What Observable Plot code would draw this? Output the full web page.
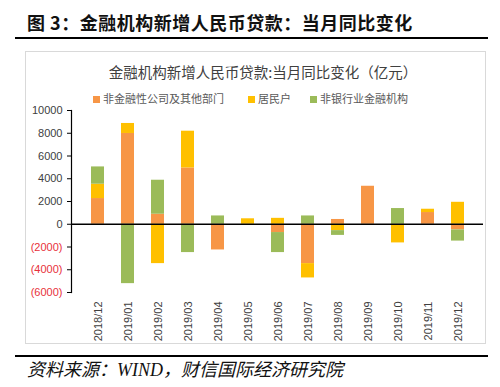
<!DOCTYPE html>
<html>
<head>
<meta charset="utf-8">
<script src="https://cdn.jsdelivr.net/npm/d3@7"></script>
<script src="https://cdn.jsdelivr.net/npm/@observablehq/plot@0.6"></script>
<style>
  html, body { margin: 0; padding: 0; background: #fff; }
  #wrap { position: relative; width: 500px; height: 387px; overflow: hidden; background: #fff; }
  .abs { position: absolute; white-space: nowrap; }
  #title { left: 27px; top: 10px; font-family: "Noto Sans CJK SC", sans-serif; font-weight: bold; font-size: 18px; line-height: 24px; color: #111; letter-spacing: 0.5px; }
  .hr { position: absolute; left: 15px; width: 473px; height: 2px; background: #000; }
  #box { left: 25px; top: 51px; width: 459px; height: 291px; border: 1px solid #d9d9d9; }
  #subtitle { left: 0; width: 526px; text-align: center; top: 62px; font-family: "Noto Sans CJK SC", sans-serif; font-size: 14.5px; line-height: 20px; color: #404040; }
  .leg { top: 91px; font-family: "Noto Sans CJK SC", sans-serif; font-size: 11px; line-height: 14px; color: #595959; }
  .sw { display: inline-block; width: 7px; height: 7px; margin-right: 3px; vertical-align: 0px; }
  #source { left: 27px; top: 359px; font-family: "Liberation Serif", "Noto Sans CJK SC", serif; font-style: italic; font-size: 18px; line-height: 22px; color: #111; }
  #plot { position: absolute; left: 0; top: 0; }
</style>
</head>
<body>
<div id="wrap">
  <div id="box" class="abs"></div>
  <div id="title" class="abs"></div>
  <div class="hr" style="top:37px"></div>
  <div id="subtitle" class="abs"></div>
  <div id="legend"></div>
  <div id="plot"></div>
  <div class="hr" style="top:355px"></div>
  <div id="source" class="abs"></div>
</div>
<script>
const titleText = "图 3：金融机构新增人民币贷款：当月同比变化";
const subtitleText = "金融机构新增人民币贷款:当月同比变化（亿元）";
const sourceText = "资料来源：WIND，财信国际经济研究院";

const months = ["2018/12","2019/01","2019/02","2019/03","2019/04","2019/05","2019/06",
                "2019/07","2019/08","2019/09","2019/10","2019/11","2019/12"];
const seriesNames = ["非金融性公司及其他部门", "居民户", "非银行业金融机构"];
const seriesColors = ["#F79646", "#FFC000", "#9BBB59"];

const corporate = [2260, 7980,   880, 4950, -2260,   0,  -730, -3460,  420, 3340,     0, 1030,  -500];
const household = [1260,  880, -3460, 3230,     0, 480,   520, -1260, -560,    0, -1640,  290,  1930];
const nonbank   = [1520, -5220, 2990, -2490,  730,   0, -1760,   730, -420,    0,  1380,    0,  -980];

const yTicks = [-6000, -4000, -2000, 0, 2000, 4000, 6000, 8000, 10000];
const yDomain = [-6000, 10000];

const seriesValues = [corporate, household, nonbank];
const data = [];
months.forEach((m, i) => {
  seriesNames.forEach((s, k) => data.push({month: m, series: s, value: seriesValues[k][i]}));
});

document.getElementById("title").textContent = titleText;
document.getElementById("subtitle").textContent = subtitleText;
document.getElementById("source").textContent = sourceText;

const legendPos = [93, 248, 310];
const legend = document.getElementById("legend");
seriesNames.forEach((s, k) => {
  const d = document.createElement("div");
  d.className = "abs leg";
  d.style.left = legendPos[k] + "px";
  d.innerHTML = `<span class="sw" style="background:${seriesColors[k]}"></span>${s}`;
  legend.appendChild(d);
});

const fmt = d => d < 0 ? `(${-d})` : `${d}`;

const chart = Plot.plot({
  width: 500,
  height: 387,
  marginTop: 110,
  marginBottom: 95,
  marginLeft: 71,
  marginRight: 17,
  style: {background: "transparent", fontFamily: "'Liberation Sans', Arial, sans-serif", fontSize: "11px"},
  x: {domain: months, padding: 0.58, axis: null, label: null},
  y: {domain: yDomain, axis: null, label: null},
  color: {domain: seriesNames, range: seriesColors},
  marks: [
    Plot.barY(data, {x: "month", y: "value", fill: "series"}),
    Plot.ruleY([0], {stroke: "#000", strokeWidth: 1.5}),
    Plot.frame({anchor: "left", stroke: "#000", strokeWidth: 1.2}),
    Plot.axisY({ticks: yTicks, tickSize: 4, tickFormat: () => "", stroke: "#000", label: null}),
    Plot.text(yTicks, {filter: d => d >= 0, y: d => d, text: fmt, frameAnchor: "left", textAnchor: "end", dx: -9, fill: "#404040", fontSize: 11}),
    Plot.text(yTicks, {filter: d => d < 0, y: d => d, text: fmt, frameAnchor: "left", textAnchor: "end", dx: -9, fill: "#E8303A", fontSize: 11}),
    Plot.axisX({tickRotate: -90, tickSize: 0, tickPadding: 9, fill: "#404040", fontSize: 11, label: null})
  ]
});
document.getElementById("plot").appendChild(chart);
</script>
</body>
</html>
